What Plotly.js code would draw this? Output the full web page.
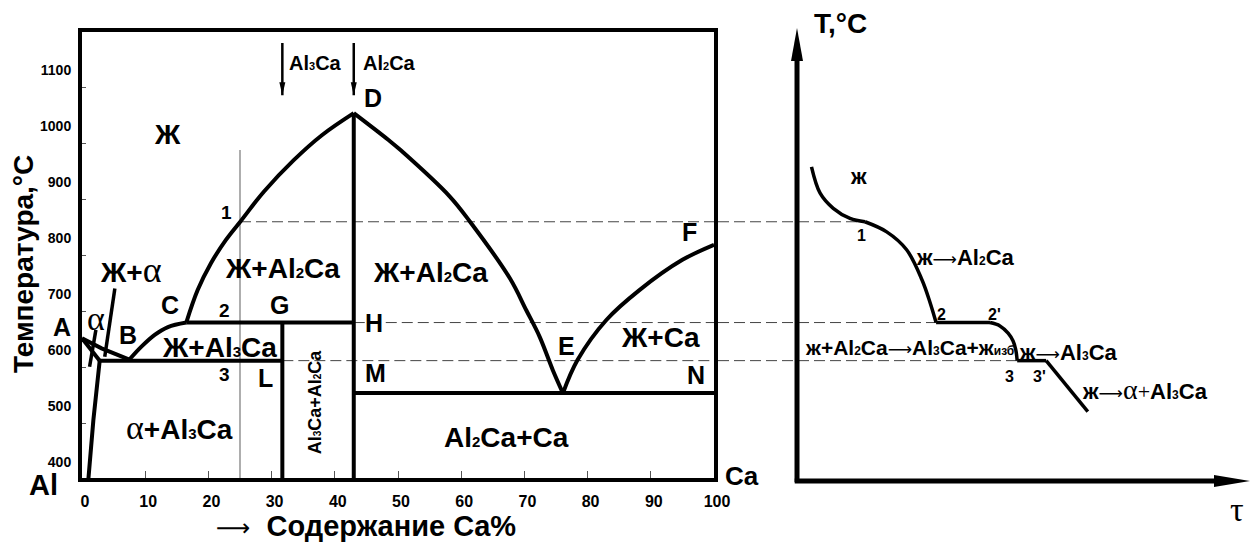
<!DOCTYPE html>
<html><head><meta charset="utf-8">
<script src="https://cdn.plot.ly/plotly-3.0.1.min.js"></script>
<style>html,body{margin:0;padding:0;background:#fff}</style>
</head><body>
<div id="chart" style="width:1255px;height:542px"></div>
<script>
// ===== Data: Al–Ca phase diagram (x = % Ca, y = °C) =====
const xTicks = [0, 10, 20, 30, 40, 50, 60, 70, 80, 90, 100];
const yTicks = [400, 500, 600, 700, 800, 900, 1000, 1100];
const yMinorTicks = [468, 568, 668, 768, 868, 968, 1068];

const yBottom = 368;
// liquidus A–B
const liqAB_x = [0, 3.1, 7.5];
const liqAB_y = [621, 603, 583];
// solidus A – eutectic start
const solA_x = [0, 2.8];
const solA_y = [621, 581];
// solvus
const solvus_x = [2.8, 1.8, 1.0];
const solvus_y = [581, 475, 368];
// liquidus B–C
const liqBC_x = [7.5, 9.4, 11.5, 13.6, 16.5];
const liqBC_y = [583, 606, 627, 641, 649];
// liquidus C–D
const liqCD_x = [16.5, 18.3, 20.4, 22.8, 25.1, 28.8, 33.5, 38.0, 43];
const liqCD_y = [649, 707, 755, 797, 830, 883, 939, 984, 1023];
// liquidus D–E
const liqDE_x = [43, 48.5, 50.4, 58.2, 61.4, 67.7, 70.3, 72.4, 74.5, 76.1];
const liqDE_y = [1023, 975, 957, 874, 829, 728, 671, 624, 564, 523];
// liquidus E–F
const liqEF_x = [76.1, 78.4, 83.0, 88.2, 95.0, 100];
const liqEF_y = [523, 582, 654, 707, 761, 788];

// isotherms and compounds
const peritecticT = 649, peritecticX = [16.5, 43];
const eutecticT = 581, eutecticX = [2.8, 31.7];
const eutectic2T = 523, eutectic2X = [43, 100];
const al3caX = 31.7, al2caX = 43, alloyX = 25;
const alloyTopT = 957;
const peakT = 1023;
// leader lines
const leadAlpha_x = [2.2, 1.2], leadAlpha_y = [636, 570];
const leadLA_x = [5.2, 3.6], leadLA_y = [710, 588];
// compound arrows at top
const topArrowT = [1148, 1055];

// ===== Cooling curve (τ arbitrary units, T °C) =====
const cool1_t = [3.2, 5.1, 8.0, 11.7, 15.0];
const cool1_T = [927, 880, 853, 835, 829];
const cool2_t = [15.0, 19.8, 24.2, 27.6, 29.4, 30.7];
const cool2_T = [829, 811, 779, 725, 684, 649];
const cool3_t = [30.7, 42.6];
const cool3_T = [649, 649];
const cool4_t = [42.6, 44.8, 46.6, 47.7, 48.3, 48.6];
const cool4_T = [649, 643, 630, 616, 600, 581];
const cool5_t = [48.6, 55.0];
const cool5_T = [581, 581];
const cool6_t = [55.0, 64.2];
const cool6_T = [581, 490];

// dashed projection lines
const dashT = [829, 649, 581];
const dashStartX = [25, 43, 31.7];
const dashEndTau = [15.0, 30.7, 48.6];

// ===== Layout geometry =====
const W = 1255, H = 542;
const xRange = [0, 100];
const yRange = [371.43, 1168.75];
const x2Range = [-17.44, 101.1];
const y2Range = [341.07, 1198.2];
const tauAxisT = 366, tauTip = 100, tAxisTip = 1175;

const FONT = 'Liberation Sans, Arial, sans-serif';
const SERIF = 'Liberation Serif, Times New Roman, serif';
function sub(t, s) { return `<span style="font-size:${s}px">${t}</span>`; }
function alpha(s) { return `<span style="font-family:${SERIF};font-weight:normal;font-size:${s}px">α</span>`; }
function arrow(s) { return `<span style="font-family:DejaVu Sans;font-weight:normal;font-size:${s}px">⟶</span>`; }

const traces = [];
function addLine(xs, ys, o = {}) {
  traces.push({
    type: 'scatter', mode: 'lines', x: xs, y: ys,
    xaxis: o.xa || 'x', yaxis: o.ya || 'y', hoverinfo: 'skip', showlegend: false,
    line: { color: o.color || '#000', width: o.width || 4, shape: o.shape || 'linear', dash: o.dash || 'solid' }
  });
}

// thin / dashed lines first
addLine([alloyX, alloyX], [alloyTopT, yBottom], { color: '#777', width: 1.2 });
for (let i = 0; i < dashT.length; i++) {
  addLine([dashStartX[i], xRange[1]], [dashT[i], dashT[i]], { color: '#444', width: 1, dash: '11px,5px' });
  addLine([x2Range[0], dashEndTau[i]], [dashT[i], dashT[i]], { xa: 'x2', ya: 'y2', color: '#444', width: 1, dash: '11px,5px' });
}
// phase diagram
addLine(liqAB_x, liqAB_y);
addLine(solA_x, solA_y);
addLine(solvus_x, solvus_y);
addLine(liqBC_x, liqBC_y, { shape: 'spline' });
addLine(liqCD_x, liqCD_y, { shape: 'spline' });
addLine(liqDE_x, liqDE_y, { shape: 'spline' });
addLine(liqEF_x, liqEF_y, { shape: 'spline' });
addLine(peritecticX, [peritecticT, peritecticT]);
addLine(eutecticX, [eutecticT, eutecticT]);
addLine(eutectic2X, [eutectic2T, eutectic2T]);
addLine([al3caX, al3caX], [peritecticT, yBottom]);
addLine([al2caX, al2caX], [peakT, yBottom]);
addLine(leadAlpha_x, leadAlpha_y, { width: 3.5 });
addLine(leadLA_x, leadLA_y, { width: 3.5 });
addLine([al3caX, al3caX], topArrowT, { width: 2.5 });
addLine([al2caX, al2caX], topArrowT, { width: 2.5 });
// cooling curve
addLine(cool1_t, cool1_T, { xa: 'x2', ya: 'y2', shape: 'spline', width: 3.5 });
addLine(cool2_t, cool2_T, { xa: 'x2', ya: 'y2', shape: 'spline', width: 3.5 });
addLine(cool3_t, cool3_T, { xa: 'x2', ya: 'y2', width: 3.5 });
addLine(cool4_t, cool4_T, { xa: 'x2', ya: 'y2', shape: 'spline', width: 3.5 });
addLine(cool5_t, cool5_T, { xa: 'x2', ya: 'y2', width: 3.5 });
addLine(cool6_t, cool6_T, { xa: 'x2', ya: 'y2', width: 3.5 });
// cooling-curve axes
addLine([0, 0], [364, tAxisTip - 20 / 0.56], { xa: 'x2', ya: 'y2', width: 5 });
addLine([-0.5, tauTip - 20 / 4.53], [tauAxisT, tauAxisT], { xa: 'x2', ya: 'y2', width: 5 });

function head(xref, yref, x, y, dir, len, half) {
  let path;
  if (dir === 'down') path = `M0,0L${-half},${len}L${half},${len}Z`;
  else if (dir === 'up') path = `M0,0L${-half},${-len}L${half},${-len}Z`;
  else path = `M0,0L${-len},${half}L${-len},${-half}Z`;
  return { type: 'path', xref, yref, xsizemode: 'pixel', ysizemode: 'pixel', xanchor: x, yanchor: y,
    path, fillcolor: '#000', line: { width: 0 }, layer: 'above' };
}
const shapes = [
  head('x', 'y', al3caX, topArrowT[1], 'down', 13, 3),
  head('x', 'y', al2caX, topArrowT[1], 'down', 13, 3),
  head('x2', 'y2', 0, tAxisTip, 'up', 33, 6),
  head('x2', 'y2', tauTip, tauAxisT, 'right', 36, 6)
];

function A(text, x, y, size, o = {}) {
  return Object.assign({ text, x, y, xref: 'x', yref: 'y', showarrow: false, xanchor: 'center', yanchor: 'middle',
    font: { family: FONT, size, color: '#000', weight: 'bold' } }, o);
}
const R = { xref: 'x2', yref: 'y2' };
const P = { xref: 'paper', yref: 'paper' };
const px = v => v / W, py = v => (H - v) / H;

const annotations = [
  // titles
  A('Температура,°C', px(23), py(264), 28, Object.assign({ textangle: -90 }, P)),
  A(arrow(24) + '  Содержание Ca%', px(366), py(526), 29, P),
  // outside labels
  A('A', px(62), py(327), 25, P),
  A('Al', px(43), py(485), 29, P),
  A('Ca', px(742), py(476), 26, P),
  A('T,°C', px(840), py(24), 28, P),
  A('τ', px(1237), py(509), 34, Object.assign({ font: { family: SERIF, size: 34, color: '#000', weight: 'normal' } }, P)),
  // region labels
  A('Ж', 13.45, 984, 28),
  A('Ж+' + alpha(36), 7.75, 743, 28),
  A(alpha(34), 2.2, 657, 28),
  A('Ж+Al' + sub('2', 15) + 'Ca', 31.8, 746, 28),
  A('Ж+Al' + sub('2', 15) + 'Ca', 55.1, 739, 28),
  A('Ж+Al' + sub('3', 15) + 'Ca', 21.8, 605, 28),
  A(alpha(34) + '+Al' + sub('3', 15) + 'Ca', 15.5, 462, 28),
  A('Al' + sub('3', 10) + 'Ca+Al' + sub('2', 10) + 'Ca', 36.9, 507, 18, { textangle: -90 }),
  A('Al' + sub('2', 15) + 'Ca+Ca', 67.2, 443, 28),
  A('Ж+Ca', 91.6, 623, 28),
  A('Al' + sub('3', 11) + 'Ca', 36.9, 1112, 20),
  A('Al' + sub('2', 11) + 'Ca', 48.7, 1112, 20),
  // points
  A('B', 7.28, 627, 25), A('C', 13.9, 680, 25), A('G', 31.3, 680, 25),
  A('H', 46.2, 648, 25), A('L', 29.1, 550, 25), A('M', 46.5, 559, 25),
  A('D', 46.0, 1050, 25), A('E', 76.6, 607, 25), A('N', 97.2, 555, 25), A('F', 96.2, 811, 25),
  A('1', 22.8, 845, 19), A('2', 22.5, 670, 19), A('3', 22.5, 557, 19),
  // cooling-curve labels
  A('ж', 13.5, 909, 22, R),
  A('1', 14.3, 805, 16, R),
  A('ж' + arrow(17) + 'Al' + sub('2', 12) + 'Ca', 37.1, 766, 22, R),
  A('2', 32.0, 664, 16, R), A("2'", 43.7, 664, 16, R),
  A('ж+Al' + sub('2', 12) + 'Ca' + arrow(17) + 'Al' + sub('3', 12) + 'Ca+ж' + sub('изб', 12), 24.9, 604, 21, R),
  A('ж' + arrow(17) + 'Al' + sub('3', 12) + 'Ca', 60.0, 595, 22, R),
  A('3', 47.0, 552, 16, R), A("3'", 53.6, 552, 16, R),
  A('ж' + arrow(17) + alpha(28) + `<span style="font-family:${SERIF};font-weight:normal">+</span>` + 'Al' + sub('3', 12) + 'Ca', 76.8, 529, 22, R)
];

const layout = {
  width: W, height: H, margin: { l: 0, r: 0, t: 0, b: 0 },
  paper_bgcolor: '#fff', plot_bgcolor: 'rgba(0,0,0,0)', showlegend: false,
  font: { family: FONT, color: '#000' },
  xaxis: {
    domain: [82 / W, 714 / W], range: xRange, anchor: 'y',
    tickmode: 'array', tickvals: xTicks, ticks: 'inside', ticklen: 7, tickwidth: 1, tickcolor: '#555',
    showline: true, linewidth: 4, linecolor: '#000', mirror: true, showgrid: false, zeroline: false,
    tickfont: { family: FONT, size: 16, weight: 'bold', color: '#000' }, ticklabelshift: 3, ticklabelstandoff: 6,
    fixedrange: true
  },
  yaxis: {
    domain: [64 / H, 510.5 / H], range: yRange, anchor: 'x',
    tickmode: 'array', tickvals: yTicks, ticks: '', showline: true, linewidth: 4, linecolor: '#000', mirror: true,
    showgrid: false, zeroline: false,
    minor: { tickmode: 'array', tickvals: yMinorTicks, ticks: 'inside', ticklen: 4, tickwidth: 1, tickcolor: '#555', showgrid: false },
    tickfont: { family: FONT, size: 14, weight: 'bold', color: '#000' }, ticklabelstandoff: 4,
    fixedrange: true
  },
  xaxis2: { domain: [718 / W, 1], range: x2Range, anchor: 'y2', visible: false, fixedrange: true },
  yaxis2: { domain: [47 / H, 527 / H], range: y2Range, anchor: 'x2', visible: false, fixedrange: true },
  shapes, annotations
};

Plotly.newPlot('chart', traces, layout, { staticPlot: true, displayModeBar: false });
</script>
</body></html>
